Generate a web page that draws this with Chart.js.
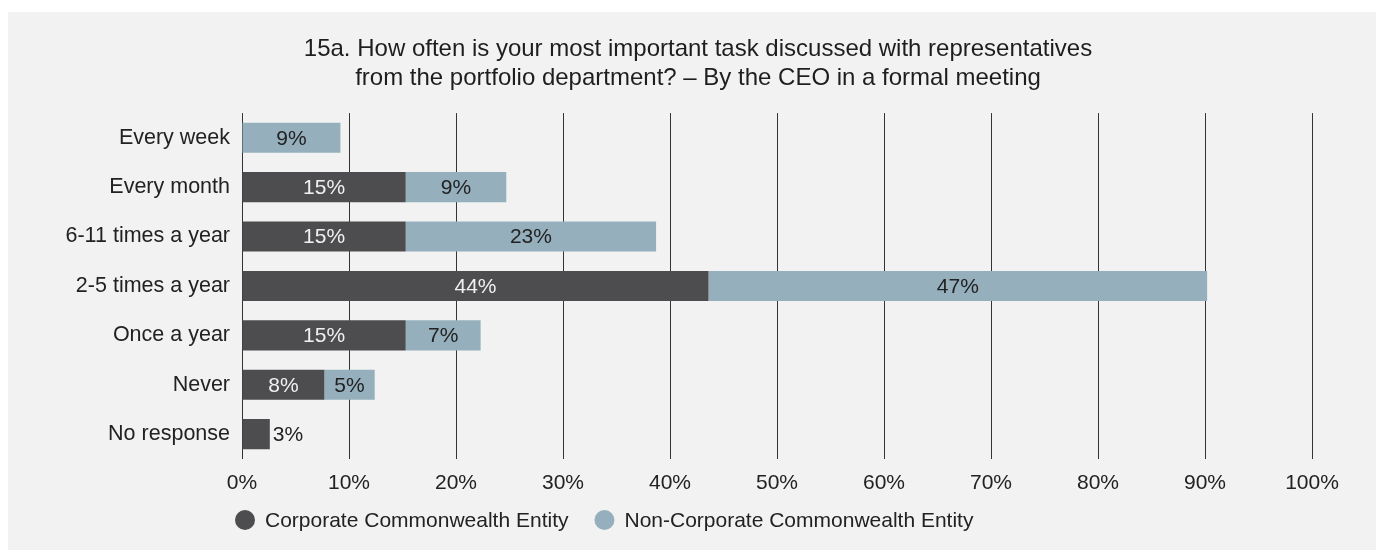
<!DOCTYPE html>
<html>
<head>
<meta charset="utf-8">
<script src="https://cdn.jsdelivr.net/npm/chart.js@4/dist/chart.umd.min.js"></script>
<style>
  html, body { margin: 0; padding: 0; background: #fff; }
  #wrap { width: 1376px; height: 550px; position: relative; }
</style>
</head>
<body>
<div id="wrap"><canvas id="chart"></canvas></div>
<script>
const categories = ["Every week", "Every month", "6-11 times a year", "2-5 times a year", "Once a year", "Never", "No response"];
const corporate = [0, 15.3, 15.3, 43.6, 15.3, 7.7, 2.6];
const nonCorporate = [9.2, 9.4, 23.4, 46.6, 7.0, 4.7, 0];
const xTicks = [0, 10, 20, 30, 40, 50, 60, 70, 80, 90, 100];
const seriesNames = ["Corporate Commonwealth Entity", "Non-Corporate Commonwealth Entity"];
const seriesColors = ["#4d4d4f", "#95afbd"];
const titleLines = [
  "15a. How often is your most important task discussed with representatives",
  "from the portfolio department? \u2013 By the CEO in a formal meeting"
];

const FONT = "'Liberation Sans', Arial, sans-serif";

// grey panel behind the chart
const panelBg = {
  id: 'panelBg',
  beforeDraw(chart) {
    const ctx = chart.ctx;
    ctx.save();
    ctx.fillStyle = '#f2f2f2';
    ctx.fillRect(8, 12, chart.width - 8, chart.height - 12);
    ctx.restore();
  }
};

// let the long category names use the space left of the axis box
const widenYLabels = {
  id: 'widenYLabels',
  afterLayout(chart) {
    chart.scales.y.left = 8;
  }
};

// value labels on the bars
const barLabels = {
  id: 'barLabels',
  afterDatasetsDraw(chart) {
    const ctx = chart.ctx;
    ctx.save();
    ctx.font = '21px ' + FONT;
    ctx.textBaseline = 'middle';
    chart.data.datasets.forEach((ds, di) => {
      const meta = chart.getDatasetMeta(di);
      meta.data.forEach((bar, i) => {
        const v = ds.data[i];
        if (!v) return;
        const txt = Math.round(v) + '%';
        const w = bar.x - bar.base;
        if (w < ctx.measureText(txt).width + 6) {
          ctx.textAlign = 'left';
          ctx.fillStyle = '#222';
          ctx.fillText(txt, bar.x + 3, bar.y + 1);
        } else {
          ctx.textAlign = 'center';
          ctx.fillStyle = di === 0 ? '#f0f0f0' : '#222';
          ctx.fillText(txt, (bar.x + bar.base) / 2, bar.y + 1);
        }
      });
    });
    ctx.restore();
  }
};

// legend row under the axis, starting at the left edge of the plot
const bottomLegend = {
  id: 'bottomLegend',
  afterDraw(chart) {
    const ctx = chart.ctx;
    const y = 520;
    let x = chart.chartArea.left - 7;
    ctx.save();
    ctx.font = '21px ' + FONT;
    ctx.textBaseline = 'middle';
    ctx.textAlign = 'left';
    chart.data.datasets.forEach((ds) => {
      ctx.fillStyle = ds.backgroundColor;
      ctx.beginPath();
      ctx.arc(x + 10, y, 10, 0, Math.PI * 2);
      ctx.fill();
      ctx.fillStyle = '#222';
      ctx.fillText(ds.label, x + 30, y + 1);
      x += 30 + ctx.measureText(ds.label).width + 26;
    });
    ctx.restore();
  }
};

new Chart(document.getElementById('chart'), {
  type: 'bar',
  data: {
    labels: categories,
    datasets: [{
      label: seriesNames[0],
      data: corporate,
      backgroundColor: seriesColors[0],
      borderWidth: 0,
      barPercentage: 0.61,
      categoryPercentage: 1
    }, {
      label: seriesNames[1],
      data: nonCorporate,
      backgroundColor: seriesColors[1],
      borderWidth: 0,
      barPercentage: 0.61,
      categoryPercentage: 1
    }]
  },
  options: {
    indexAxis: 'y',
    responsive: true,
    maintainAspectRatio: false,
    animation: false,
    layout: { padding: { left: 84, right: 64, top: 13, bottom: 42 } },
    plugins: {
      title: {
        display: true,
        text: titleLines,
        color: '#1e1e1e',
        font: { size: 24, family: FONT, weight: 'normal', lineHeight: 1.21 },
        padding: { top: 22, bottom: 20 }
      },
      legend: { display: false },
      tooltip: { enabled: false }
    },
    scales: {
      x: {
        stacked: true,
        min: 0,
        max: 100,
        afterBuildTicks(scale) { scale.ticks = xTicks.map(v => ({ value: v })); },
        grid: { color: '#333', lineWidth: 1, drawTicks: false },
        border: { display: false },
        ticks: {
          color: '#222',
          padding: 12,
          font: { size: 21, family: FONT },
          callback: v => v + '%'
        }
      },
      y: {
        stacked: true,
        grid: { display: false, drawTicks: false },
        border: { display: false },
        afterFit(scale) { scale.width = 158; },
        ticks: {
          color: '#222',
          padding: 12,
          font: { size: 21.5, family: FONT }
        }
      }
    }
  },
  plugins: [panelBg, widenYLabels, barLabels, bottomLegend]
});
</script>
</body>
</html>
